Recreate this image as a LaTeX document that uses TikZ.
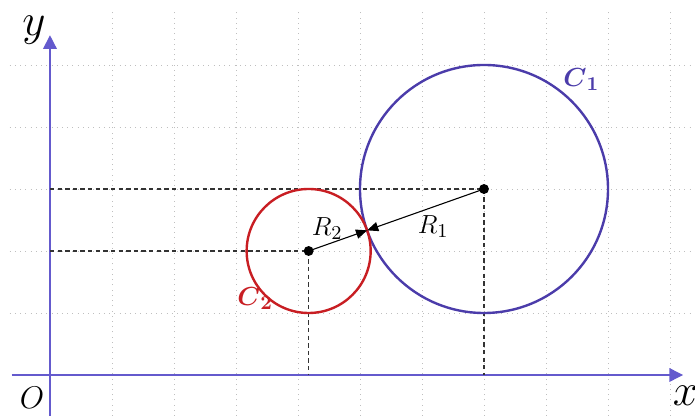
\documentclass[tikz,border=0pt]{standalone}
\usepackage{amsmath}
\usetikzlibrary{arrows.meta}
\definecolor{circblue}{RGB}{75,60,170}
\definecolor{axisblue}{RGB}{100,90,205}
\definecolor{circred}{RGB}{200,30,35}
\tikzset{
  gridline/.style={gray!50,dotted,line width=0.4pt},
  axisline/.style={axisblue,line width=0.6pt,-{Triangle[length=2.2mm,width=2.2mm]}},
  guide/.style={black!80,line width=0.6pt,dash pattern=on 2pt off 1.5pt},
  radius arrow/.style={black,line width=0.5pt,-{Triangle[length=1.8mm,width=1.5mm]}},
  centre dot/.style={circle,fill=black,inner sep=0pt,minimum size=1.6mm},
  lab/.style={font=\fontsize{13}{15}\selectfont}
}
\begin{document}
\begin{tikzpicture}[x=1cm,y=1cm]
\useasboundingbox (-0.806,-0.661) rectangle (10.403,6.048);

\foreach \i in {1,...,10}
  \draw[gridline] (\i,-0.661) -- (\i,5.89);
\foreach \j in {1,...,5}
  \draw[gridline] (-0.65,\j) -- (10.403,\j);

\coordinate (xs) at (-0.62,0);
\coordinate (xe) at (10.21,0);
\coordinate (ys) at (0,-0.661);
\coordinate (ye) at (0,5.48);
\draw[axisline] (xs) -- (xe);
\draw[axisline] (ys) -- (ye);

\coordinate (O1) at (7,3);
\coordinate (O2) at (4.172,2);
\coordinate (T) at (5.115,2.333);
\coordinate (y1) at (0,3);
\coordinate (x1) at (7,0);
\coordinate (y2) at (0,2);
\coordinate (x2) at (4.172,0);

\draw[guide] (y1) -- (O1) -- (x1);
\draw[guide] (y2) -- (O2) -- (x2);

\draw[circblue,line width=1.1pt] (O1) circle (2);
\draw[circred,line width=1.1pt] (O2) circle (1);

\draw[radius arrow] (O2) -- (T);
\draw[radius arrow] (O1) -- (T);
\node[centre dot] (c1) at (O1) {};
\node[centre dot] (c2) at (O2) {};

\node[lab] (r2) at (4.47,2.36) {$R_2$};
\node[lab] (r1) at (6.18,2.39) {$R_1$};
\node[lab,circblue] (lc1) at (8.57,4.76) {$\boldsymbol{C}_{\boldsymbol{1}}$};
\node[lab,circred] (lc2) at (3.31,1.23) {$\boldsymbol{C}_{\boldsymbol{2}}$};

\node[font=\fontsize{15}{17}\selectfont] (lo) at (-0.29,-0.36) {$O$};
\node[font=\fontsize{20}{24}\selectfont] (lx) at (10.25,-0.34) {$x$};
\node[font=\fontsize{21}{24}\selectfont] (ly) at (-0.26,5.56) {$y$};
\end{tikzpicture}
\end{document}
